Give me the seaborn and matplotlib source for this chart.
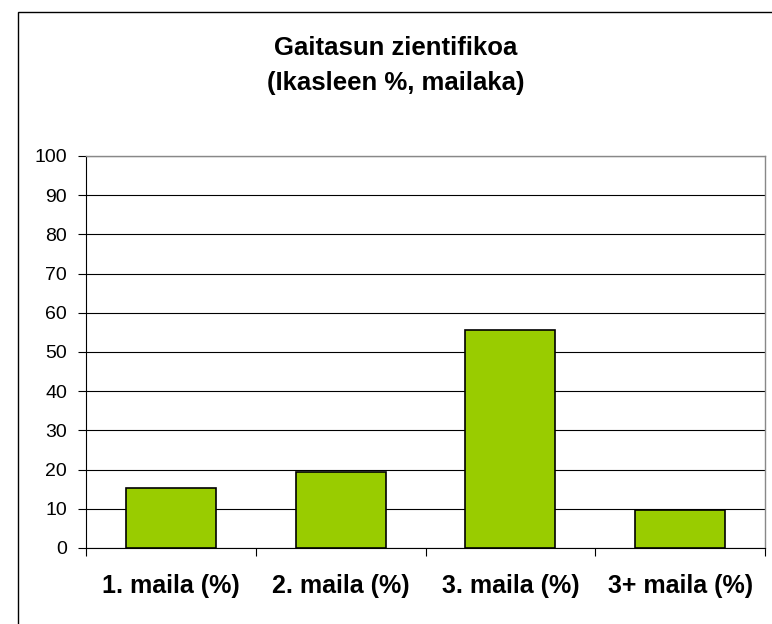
import matplotlib
matplotlib.use("Agg")
import matplotlib.pyplot as plt
import seaborn as sns
import pandas as pd
from matplotlib.patches import Rectangle

categories = ["1. maila (%)", "2. maila (%)", "3. maila (%)", "3+ maila (%)"]
values = [15.3, 19.4, 55.6, 9.7]
yticks = [0, 10, 20, 30, 40, 50, 60, 70, 80, 90, 100]

df = pd.DataFrame({"maila": categories, "pct": values})

sns.set_style("white")
plt.rcParams['font.family'] = ['Liberation Sans', 'DejaVu Sans']
plt.rcParams['text.color'] = 'black'
plt.rcParams['xtick.color'] = 'black'
plt.rcParams['ytick.color'] = 'black'

fig = plt.figure(figsize=(7.72, 6.24), dpi=100)
ax = fig.add_axes([86 / 772, 1 - 548 / 624, (765 - 86) / 772, (548 - 156) / 624])

sns.barplot(data=df, x="maila", y="pct", color="#99cc00", width=0.53,
            edgecolor="black", linewidth=1.2, saturation=1, ax=ax, zorder=3)

ax.set_ylim(0, 100)
ax.set_xlim(-0.5, len(categories) - 0.5)
ax.set_yticks(yticks)
ax.yaxis.grid(True, color="black", linewidth=0.8, zorder=0)
ax.set_axisbelow(True)

# ticks between categories
ax.set_xticks([i - 0.5 for i in range(len(categories) + 1)], minor=True)
ax.tick_params(axis="x", which="minor", bottom=True, length=6, direction="out",
               color="black", width=0.8)
ax.tick_params(axis="x", which="major", bottom=False, length=0, pad=19)
ax.tick_params(axis="y", left=True, length=6, direction="out", color="black",
               width=0.8, labelsize=14, pad=7.5)
ax.set_xticklabels(categories, fontsize=18, fontweight="bold", color="black")

for s in ["left", "bottom"]:
    ax.spines[s].set_color("black")
    ax.spines[s].set_linewidth(0.8)
for s in ["top", "right"]:
    ax.spines[s].set_color("#888888")
    ax.spines[s].set_linewidth(1)

ax.set_xlabel("")
ax.set_ylabel("")

fig.text(396 / 772, 1 - 48 / 624, "Gaitasun zientifikoa", ha="center", va="center",
         fontsize=18.5, fontweight="bold")
fig.text(396 / 772, 1 - 83 / 624, "(Ikasleen %, mailaka)", ha="center", va="center",
         fontsize=18.5, fontweight="bold")

# chart border (runs off the right and bottom edges)
fig.patches.append(Rectangle((18 / 772, -0.05), 1.0, 1 - 12 / 624 + 0.05,
                             transform=fig.transFigure, fill=False, edgecolor="black",
                             linewidth=1))

fig.savefig("out.png", dpi=100)
